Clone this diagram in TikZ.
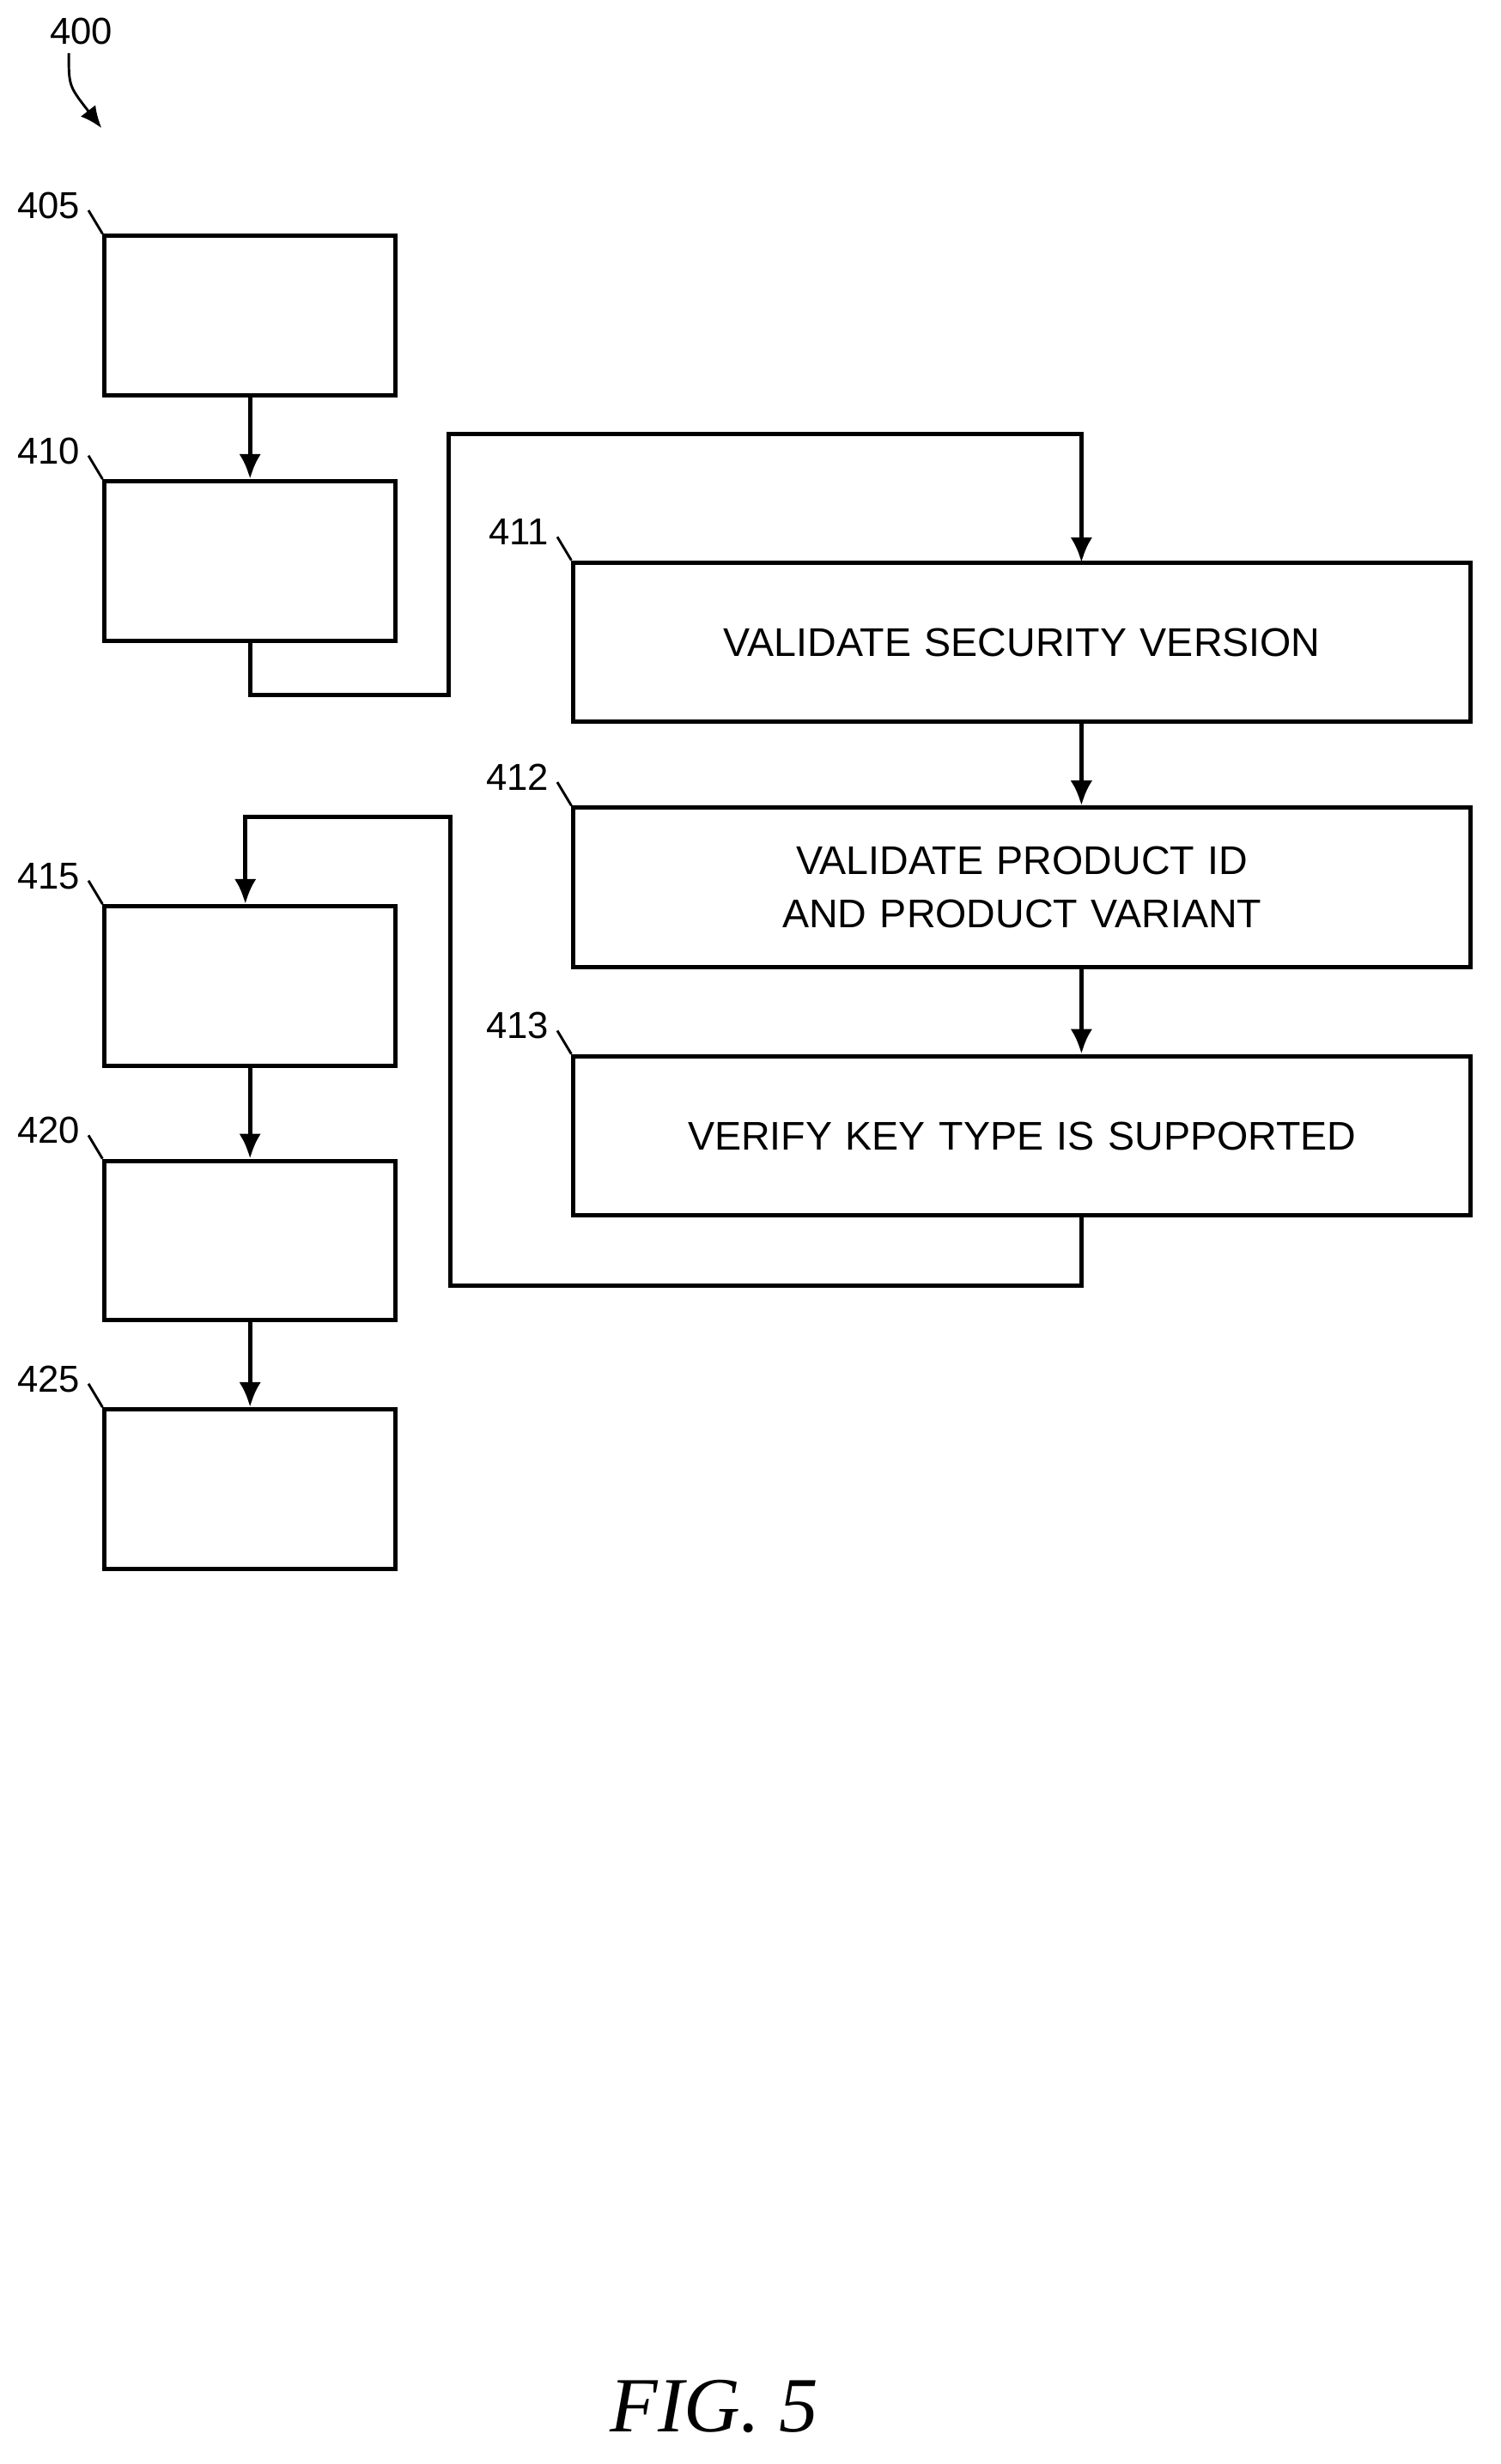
\documentclass[tikz,border=0pt]{standalone}
\usepackage{fontspec}
\setmainfont{Liberation Sans}
\newfontfamily\figfont{Liberation Serif}
\usetikzlibrary{arrows.meta}
\begin{document}
\begin{tikzpicture}[x=0.5pt,y=-0.5pt,
	box/.style={draw,line width=1.4pt,minimum width=93pt,minimum height=51pt,inner sep=2pt,
		font=\fontsize{12.8}{17}\selectfont,align=center},
	wide/.style={box,minimum width=287pt,text width=265pt},
	flow/.style={line width=1.4pt,-{Latex[length=8pt,width=7pt]}},
	ref/.style={font=\fontsize{12}{14}\selectfont,anchor=east,inner sep=1pt}]
		\useasboundingbox (0,0) rectangle (960,1577);
		% left column
		\node[box] (b405) at (160,202) {};
		\node[box] (b410) at (160,359) {};
		\node[box] (b415) at (160,631) {};
		\node[box] (b420) at (160,794) {};
		\node[box] (b425) at (160,953) {};
		% right column
		\node[wide] (b411) at (654,411) {VALIDATE SECURITY VERSION};
		\node[wide] (b412) at (654,568) {VALIDATE PRODUCT ID AND PRODUCT VARIANT};
		\node[wide] (b413) at (654,727) {VERIFY KEY TYPE IS SUPPORTED};
		% connectors
		\draw[flow] (b405) -- (b410);
		\draw[flow] (b410.south) |- (287,445) |- (692,278) -- (692,360);
		\draw[flow] (b411.south -| 692,0) -- (b412.north -| 692,0);
		\draw[flow] (b412.south -| 692,0) -- (b413.north -| 692,0);
		\draw[flow] (b413.south -| 692,0) |- (288,823) |- (157,523) -- (b415.north -| 157,0);
		\draw[flow] (b415) -- (b420);
		\draw[flow] (b420) -- (b425);
		% reference numerals
		\foreach \n/\b in {405/b405,410/b410,415/b415,420/b420,425/b425,411/b411,412/b412,413/b413}{
			\node[ref] (l\n) at ([shift={(-12,-18)}]\b.north west) {\n};
			\draw[line width=0.8pt] ([shift={(-9,-15)}]\b.north west) -- (\b.north west);
		}
		\node[font=\fontsize{12}{14}\selectfont] (l400) at (52,20) {400};
		\draw[line width=0.8pt,-{Latex[length=7pt,width=6pt]}] (44,34) .. controls (44,55) .. (65,82);
		\node[font=\figfont\itshape\fontsize{25}{30}\selectfont] (fig) at (457,1540) {FIG. 5};
\end{tikzpicture}
\end{document}
